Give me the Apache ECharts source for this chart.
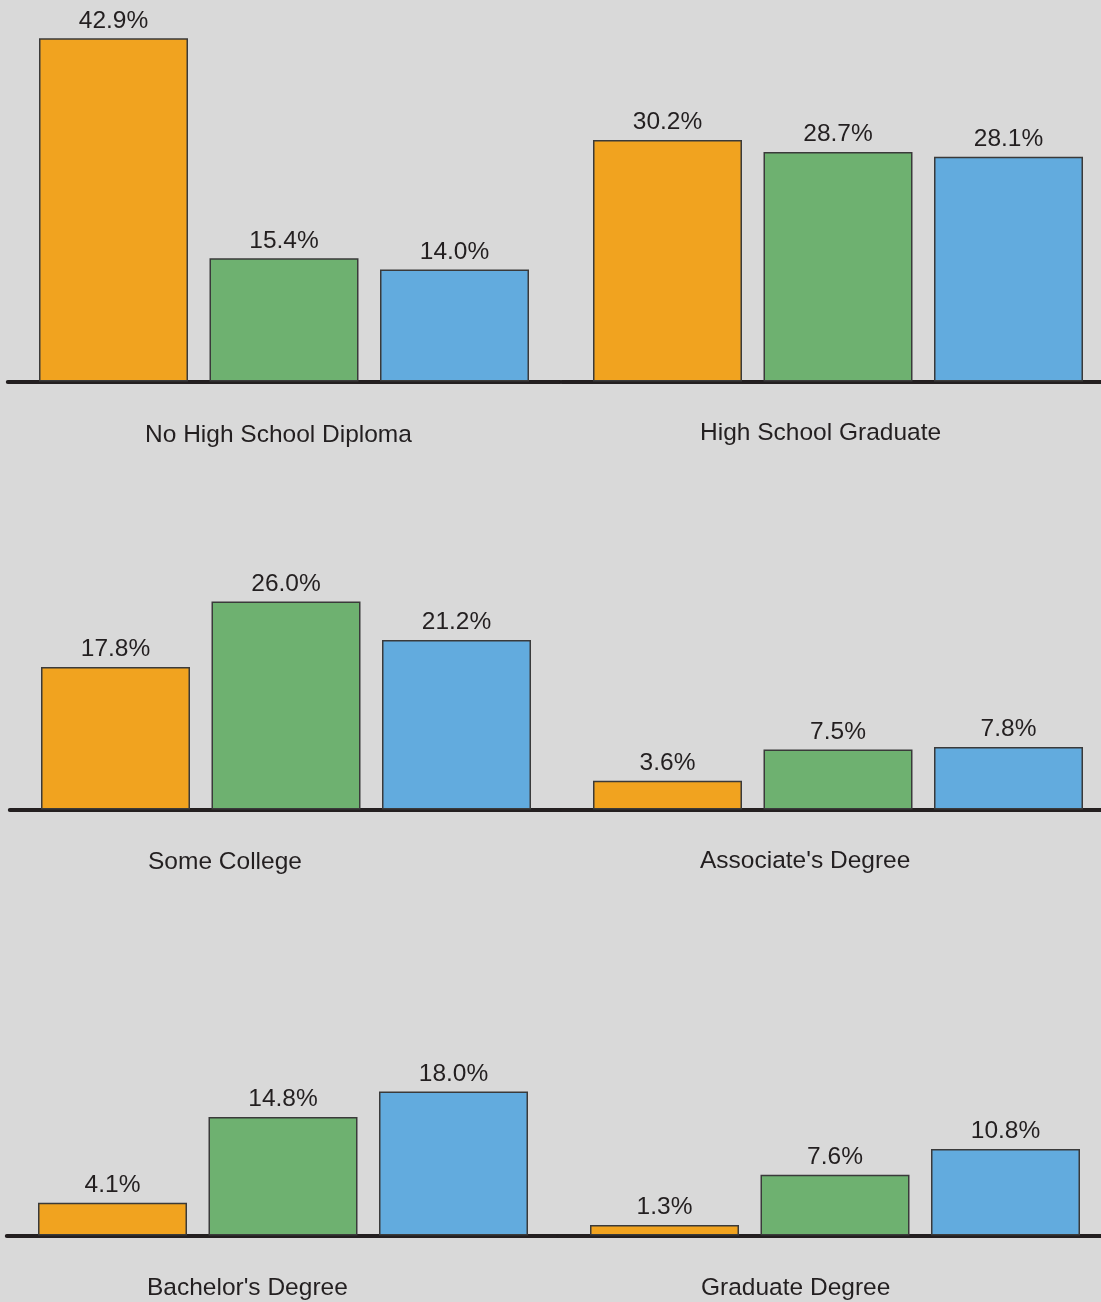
<!DOCTYPE html>
<html>
<head>
<meta charset="utf-8">
<script src="https://cdn.jsdelivr.net/npm/echarts@6/dist/echarts.min.js"></script>
<style>
html,body{margin:0;padding:0;background:#d9d9d9;}
#chart{width:1101px;height:1302px;}
</style>
</head>
<body>
<div id="chart"></div>
<script>
// ---- data ----
const categories = ["No High School Diploma", "High School Graduate", "Some College", "Associate's Degree", "Bachelor's Degree", "Graduate Degree"];
const group1Values = [42.9, 30.2, 17.8, 3.6, 4.1, 1.3];
const group2Values = [15.4, 28.7, 26.0, 7.5, 14.8, 7.6];
const group3Values = [14.0, 28.1, 21.2, 7.8, 18.0, 10.8];

// ---- styling / layout ----
const groupColors = ['#F1A31F', '#6EB170', '#62ABDE'];
const panelLayout = [
  { c0: 113.5, step: 170.5, base: 381.5, titleX: 145, titleY: 434 },
  { c0: 667.5, step: 170.5, base: 381.5, titleX: 700, titleY: 432 },
  { c0: 115.5, step: 170.5, base: 809.5, titleX: 148, titleY: 861 },
  { c0: 667.5, step: 170.5, base: 809.5, titleX: 700, titleY: 860 },
  { c0: 112.5, step: 170.5, base: 1235.5, titleX: 147, titleY: 1287 },
  { c0: 664.5, step: 170.5, base: 1235.5, titleX: 701, titleY: 1287 }
];
const chartWidth = 1101;
const xMin = -0.62, xMaxDefault = 2.62, yMax = 45, pxPerUnit = 8.0;
const font = 'Liberation Sans, Arial, sans-serif';
const textColor = '#231F20';

const grids = [], xAxes = [], yAxes = [], series = [], titles = [];
categories.forEach((cat, i) => {
  const L = panelLayout[i];
  const h = yMax * pxPerUnit;
  const left = L.c0 + xMin * L.step;
  const xMax = Math.min(xMaxDefault, (chartWidth - L.c0) / L.step);
  grids.push({
    left: left,
    width: (xMax - xMin) * L.step,
    top: L.base - h,
    height: h,
    containLabel: false
  });
  xAxes.push({
    type: 'value', gridIndex: i, min: xMin, max: xMax,
    axisLine: { show: true, onZero: false, lineStyle: { color: textColor, width: 4 } },
    axisTick: { show: false }, axisLabel: { show: false }, splitLine: { show: false }
  });
  yAxes.push({
    type: 'value', gridIndex: i, min: 0, max: yMax, show: false,
    splitLine: { show: false }
  });
  const vals = [group1Values[i], group2Values[i], group3Values[i]];
  series.push({
    type: 'bar', xAxisIndex: i, yAxisIndex: i, barWidth: 149, clip: false,
    data: vals.map((v, k) => ({
      value: [k, v],
      itemStyle: { color: groupColors[k], borderColor: '#3a3a3a', borderWidth: 1.5 }
    })),
    label: {
      show: true, position: 'top', distance: 5,
      fontFamily: font, fontSize: 24.5, color: textColor,
      formatter: p => p.value[1].toFixed(1) + '%'
    },
    silent: true
  });
  titles.push({
    text: cat, left: L.titleX, top: L.titleY - 11, padding: 0,
    textStyle: { fontFamily: font, fontSize: 24.5, fontWeight: 'normal', color: textColor }
  });
});

const chart = echarts.init(document.getElementById('chart'), null, { renderer: 'canvas' });
chart.setOption({
  backgroundColor: '#d9d9d9',
  animation: false,
  title: titles,
  grid: grids,
  xAxis: xAxes,
  yAxis: yAxes,
  series: series
});
</script>
</body>
</html>
